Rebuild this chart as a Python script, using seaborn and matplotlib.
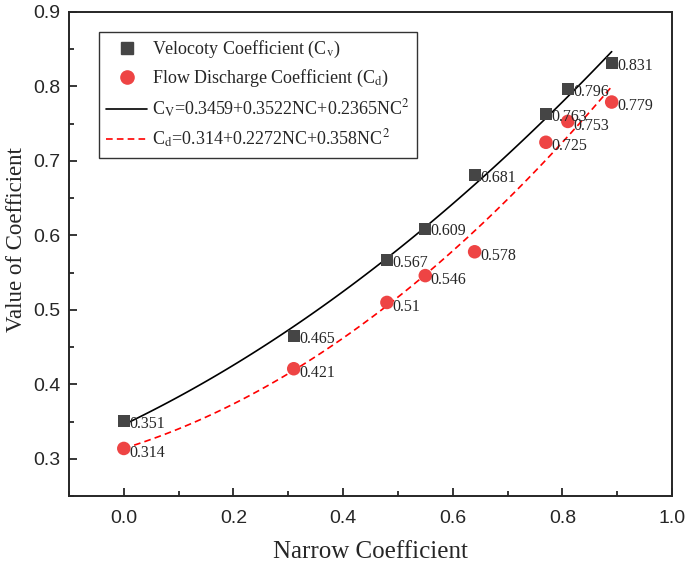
import matplotlib
matplotlib.use("Agg")
import matplotlib.pyplot as plt
import seaborn as sns
import numpy as np
import pandas as pd
from matplotlib.ticker import MultipleLocator
from matplotlib.lines import Line2D

# data
nc = [0.0, 0.31, 0.48, 0.55, 0.64, 0.77, 0.81, 0.89]
cv = [0.351, 0.465, 0.567, 0.609, 0.681, 0.763, 0.796, 0.831]
cd = [0.314, 0.421, 0.51, 0.546, 0.578, 0.725, 0.753, 0.779]
cv_coef = [0.3459, 0.3522, 0.2365]
cd_coef = [0.314, 0.2272, 0.358]
cv_labels = ["0.351", "0.465", "0.567", "0.609", "0.681", "0.763", "0.796", "0.831"]
cd_labels = ["0.314", "0.421", "0.51", "0.546", "0.578", "0.725", "0.753", "0.779"]

sns.set_style("ticks")
plt.rcParams['font.family'] = ['Liberation Sans', 'DejaVu Sans']
plt.rcParams['mathtext.fontset'] = 'stix'

fig = plt.figure(figsize=(6.85, 5.67), dpi=100)
ax = fig.add_axes([0.1007, 0.125, 0.8803, 0.854])

xf = np.linspace(0, 0.89, 100)
fit = pd.DataFrame({
    "x": xf,
    "cv": cv_coef[0] + cv_coef[1] * xf + cv_coef[2] * xf**2,
    "cd": cd_coef[0] + cd_coef[1] * xf + cd_coef[2] * xf**2,
})
df = pd.DataFrame({"nc": nc, "cv": cv, "cd": cd})

sq_col = "#454545"
ci_col = "#ee4444"

sns.lineplot(data=fit, x="x", y="cv", ax=ax, color="black", lw=1.2, zorder=2)
sns.lineplot(data=fit, x="x", y="cd", ax=ax, color="red", lw=1.2, zorder=2)
ax.lines[-1].set_dashes([4, 2.5])
sns.scatterplot(data=df, x="nc", y="cv", ax=ax, marker="s", s=75, color=sq_col,
                edgecolor="none", zorder=3, legend=False)
sns.scatterplot(data=df, x="nc", y="cd", ax=ax, marker="o", s=95, color=ci_col,
                edgecolor="none", zorder=3, legend=False)

for x, y, t in zip(nc, cv, cv_labels):
    ax.annotate(t, (x, y), xytext=(4, -2), textcoords="offset points", va="center",
                ha="left", fontsize=11.5, family="Liberation Serif", zorder=4)
for x, y, t in zip(nc, cd, cd_labels):
    ax.annotate(t, (x, y), xytext=(4, -3), textcoords="offset points", va="center",
                ha="left", fontsize=11.5, family="Liberation Serif", zorder=4)

ax.set_xticks(np.arange(0, 1.01, 0.2))
ax.xaxis.set_minor_locator(MultipleLocator(0.1))
ax.yaxis.set_major_locator(MultipleLocator(0.1))
ax.yaxis.set_minor_locator(MultipleLocator(0.05))
ax.set_xlim(-0.1, 1.0)
ax.set_ylim(0.25, 0.9)
ax.tick_params(which="both", direction="in", width=1.3, labelsize=14, top=False, right=False)
ax.tick_params(which="major", length=6)
ax.tick_params(axis="x", which="major", pad=10)
ax.tick_params(axis="y", which="major", pad=6)
ax.tick_params(which="minor", length=3.5)
for s in ax.spines.values():
    s.set_linewidth(1.4)
    s.set_visible(True)

ax.set_xlabel("Narrow Coefficient", fontsize=18, family="Liberation Serif", labelpad=10)
ax.set_ylabel("Value of Coefficient", fontsize=16.5, family="Liberation Serif")
ax.yaxis.set_label_coords(-0.07, 0.53)

handles = [
    Line2D([], [], marker="s", color=sq_col, ls="none", markersize=8.5),
    Line2D([], [], marker="o", color=ci_col, ls="none", markersize=9.5),
    Line2D([], [], color="black", lw=1.2),
    Line2D([], [], color="red", lw=1.2, dashes=[4, 2.5]),
]
labels = [
    r"Velocoty Coefficient (C$_\mathrm{v}$)",
    r"Flow Discharge Coefficient (C$_\mathrm{d}$)",
    r"C$_\mathrm{V}$=0.3459+0.3522NC+0.2365NC$^2$",
    r"C$_\mathrm{d}$=0.314+0.2272NC+0.358NC$^2$",
]
leg = ax.legend(handles, labels, loc="upper left", bbox_to_anchor=(0.04, 0.97),
                prop={"family": "Liberation Serif", "size": 13}, frameon=True,
                fancybox=False, edgecolor="black", handlelength=2.3, handletextpad=0.25,
                borderpad=0.4, borderaxespad=0.3, labelspacing=0.45)
leg.get_frame().set_linewidth(1.0)

fig.savefig("out.png", dpi=100)
